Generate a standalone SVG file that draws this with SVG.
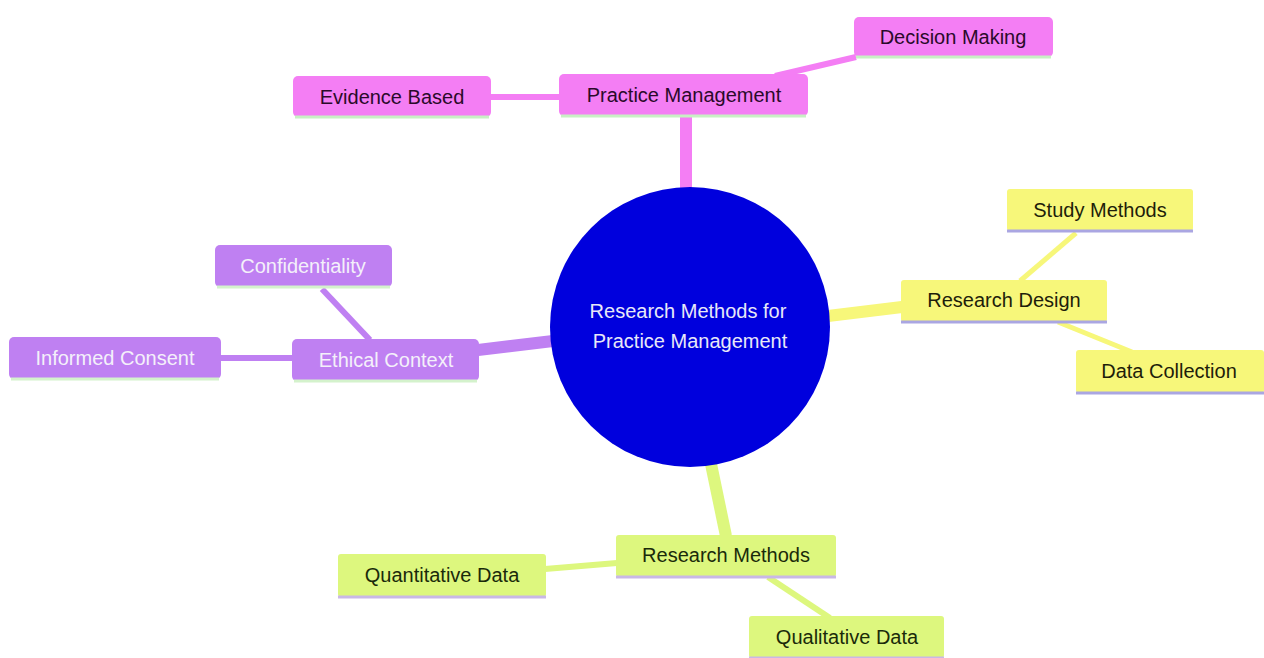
<svg xmlns="http://www.w3.org/2000/svg" width="1264" height="658" viewBox="0 0 1264 658">
<style>
text{font-family:"Liberation Sans",Arial,sans-serif;font-size:20px;text-anchor:middle;dominant-baseline:central}
.pk rect{fill:#f47ef4}.pk text{fill:#2a0a2a}.pk line{stroke:#c8f0c4}
.pu rect{fill:#bf80f2}.pu text{fill:#f4f0fa}.pu line{stroke:#d4f2cc}
.ye rect{fill:#f7f77a}.ye text{fill:#1e1e0a}.ye line{stroke:#aaa6e2}
.gr rect{fill:#ddf77e}.gr text{fill:#1a2a0a}.gr line{stroke:#c9b8e6}
.node line{stroke-width:3}
#connectors line{stroke-linecap:butt}
</style>
<rect width="1264" height="658" fill="#ffffff"/>
<g id="connectors">
<line x1="686" y1="116" x2="686" y2="190" stroke="#f47ef4" stroke-width="12"/>
<line x1="491" y1="97" x2="560" y2="97" stroke="#f47ef4" stroke-width="6"/>
<line x1="775" y1="76" x2="856" y2="57" stroke="#f47ef4" stroke-width="6"/>
<line x1="478" y1="350" x2="553" y2="341" stroke="#bf80f2" stroke-width="12"/>
<line x1="221" y1="358" x2="293" y2="358" stroke="#bf80f2" stroke-width="6"/>
<line x1="322" y1="289" x2="370" y2="340" stroke="#bf80f2" stroke-width="6"/>
<line x1="828" y1="316" x2="902" y2="307" stroke="#f7f77a" stroke-width="12"/>
<line x1="1076" y1="233" x2="1020" y2="281" stroke="#f7f77a" stroke-width="5"/>
<line x1="1058" y1="322" x2="1132" y2="352" stroke="#f7f77a" stroke-width="5"/>
<line x1="711" y1="464" x2="726" y2="536" stroke="#ddf77e" stroke-width="12"/>
<line x1="617" y1="563" x2="545" y2="569" stroke="#ddf77e" stroke-width="6"/>
<line x1="768" y1="577" x2="830" y2="618" stroke="#ddf77e" stroke-width="6"/>
</g>
<g id="center">
<circle cx="690" cy="327" r="140" fill="#0000dd"/>
<text x="688" y="311" fill="#e8e8f8">Research Methods for</text>
<text x="690" y="341" fill="#e8e8f8">Practice Management</text>
</g>
<g id="practice-management" class="node pk">
<rect x="559" y="74" width="249" height="42" rx="5"/><line x1="561" y1="116" x2="806" y2="116"/>
<text x="684" y="95">Practice Management</text>
</g>
<g id="evidence-based" class="node pk">
<rect x="293" y="76" width="198" height="41" rx="5"/><line x1="295" y1="117" x2="489" y2="117"/>
<text x="392" y="97">Evidence Based</text>
</g>
<g id="decision-making" class="node pk">
<rect x="854" y="17" width="199" height="40" rx="5"/><line x1="856" y1="57" x2="1051" y2="57"/>
<text x="953" y="37">Decision Making</text>
</g>
<g id="ethical-context" class="node pu">
<rect x="292" y="339" width="187" height="42" rx="5"/><line x1="294" y1="381" x2="477" y2="381"/>
<text x="386" y="360">Ethical Context</text>
</g>
<g id="confidentiality" class="node pu">
<rect x="215" y="245" width="177" height="42" rx="5"/><line x1="217" y1="287" x2="390" y2="287"/>
<text x="303" y="266">Confidentiality</text>
</g>
<g id="informed-consent" class="node pu">
<rect x="9" y="337" width="212" height="42" rx="5"/><line x1="11" y1="379" x2="219" y2="379"/>
<text x="115" y="358">Informed Consent</text>
</g>
<g id="research-design" class="node ye">
<rect x="901" y="280" width="206" height="42" rx="3"/><line x1="901" y1="322" x2="1107" y2="322"/>
<text x="1004" y="300">Research Design</text>
</g>
<g id="study-methods" class="node ye">
<rect x="1007" y="189" width="186" height="42" rx="3"/><line x1="1007" y1="231" x2="1193" y2="231"/>
<text x="1100" y="210">Study Methods</text>
</g>
<g id="data-collection" class="node ye">
<rect x="1076" y="350" width="188" height="43" rx="3"/><line x1="1076" y1="393" x2="1264" y2="393"/>
<text x="1169" y="371">Data Collection</text>
</g>
<g id="research-methods" class="node gr">
<rect x="616" y="535" width="220" height="42" rx="3"/><line x1="616" y1="577" x2="836" y2="577"/>
<text x="726" y="555">Research Methods</text>
</g>
<g id="quantitative-data" class="node gr">
<rect x="338" y="554" width="208" height="43" rx="3"/><line x1="338" y1="597" x2="546" y2="597"/>
<text x="442" y="575">Quantitative Data</text>
</g>
<g id="qualitative-data" class="node gr">
<rect x="749" y="616" width="195" height="42" rx="3"/><line x1="749" y1="658" x2="944" y2="658"/>
<text x="847" y="637">Qualitative Data</text>
</g>
</svg>
